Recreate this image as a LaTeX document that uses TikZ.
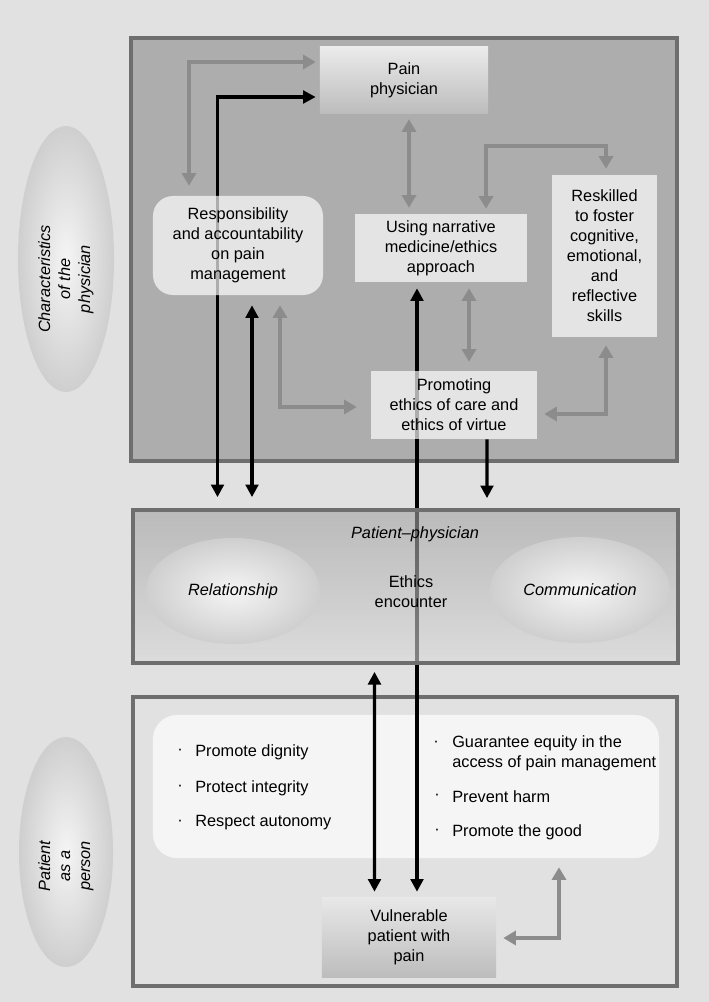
\documentclass[tikz,border=0pt]{standalone}
\usepackage{fontspec}
\setmainfont{Liberation Sans}
\usetikzlibrary{arrows.meta,calc,shapes.geometric}

\pgfdeclarelayer{back}
\pgfdeclarelayer{lines}
\pgfsetlayers{back,lines,main}

\definecolor{pagegray}{HTML}{E1E1E1}
\definecolor{panelgray}{HTML}{ADADAD}
\definecolor{framegray}{HTML}{6E6E6E}
\definecolor{linkgray}{HTML}{8C8C8C}
\definecolor{boxwhite}{HTML}{FFFFFF}

\newcommand{\figfont}{\fontsize{11.6}{14.2}\selectfont}
\newcommand{\BulletItem}[4]{
    \node[dot] (#1dot) at (#2-15, #3) {·};
    \node[item] (#1) at (#2, #3) {#4};
}

\begin{document}
\begin{tikzpicture}[
        x=0.025cm, y=-0.025cm,
        font=\figfont,
        panel/.style={draw=framegray, line width=2.6pt, inner sep=0pt},
        textbox/.style={fill=boxwhite, fill opacity=0.68, text opacity=1, align=center, inner sep=0pt},
        shadebox/.style={top color=white!92!black, bottom color=white!74!black, align=center, inner sep=0pt},
        blob/.style={ellipse, inner color=white!96!black, outer color=white!81!black, inner sep=0pt},
        sidetext/.style={rotate=90, align=center, font=\figfont\itshape},
        item/.style={anchor=west, inner sep=0pt, align=left},
        dot/.style={inner sep=0pt},
        link/.style={linkgray, line width=2.8pt, {Triangle[length=9pt,width=10pt]}-{Triangle[length=9pt,width=10pt]}},
        bond/.style={black, line width=2.4pt, {Triangle[length=9pt,width=9pt]}-{Triangle[length=9pt,width=9pt]}},
        bondto/.style={black, line width=2.4pt, -{Triangle[length=9pt,width=9pt]}}
    ]
  \useasboundingbox (0,0) rectangle (709,1002);

  %%% Background, outer panels
  \begin{pgfonlayer}{back}
    \fill[pagegray] (0,0) rectangle (709,1002);
    \node[panel, fill=panelgray, minimum width=13.65cm, minimum height=10.575cm] (physpanel) at (404,249.5) {};
    \node[panel, fill=pagegray, minimum width=13.6cm, minimum height=7.225cm] (patpanel) at (405,841.5) {};
    \node[fill=white!96!black, rounded corners=0.6cm, minimum width=12.65cm, minimum height=3.575cm] (values) at (406,786.5) {};
  \end{pgfonlayer}

  % Side labels
  \node[blob, minimum width=2.4cm, minimum height=6.65cm] (physblob) at (66,259) {};
  \node[sidetext] (physlabel) at (66,279) {Characteristics\\of the\\physician};
  \node[blob, minimum width=2.35cm, minimum height=5.75cm] (patblob) at (66,852) {};
  \node[sidetext] (patlabel) at (66,866) {Patient\\as a\\person};

  %%% Characteristics of the physician
  \node[shadebox, minimum width=4.2cm, minimum height=1.65cm] (pain) at (404,80) {Pain\\physician};
  \node[textbox, rounded corners=0.5cm, minimum width=4.25cm, minimum height=2.475cm] (resp) at (238,245.5)
    {Responsibility\\and accountability\\on pain\\management};
  \node[textbox, minimum width=4.3cm, minimum height=1.7cm] (narr) at (441,248) {Using narrative\\medicine/ethics\\approach};
  \node[textbox, minimum width=2.625cm, minimum height=4.05cm] (reskill) at (604.5,256)
    {Reskilled\\to foster\\cognitive,\\emotional,\\and\\reflective\\skills};
  \node[textbox, minimum width=4.15cm, minimum height=1.7cm] (promo) at (454,405) {Promoting\\ethics of care and\\ethics of virtue};

  %%% Ethics encounter
  \node[panel, top color=white!63!black, bottom color=white!85!black, fill opacity=0.6, draw opacity=1,
        minimum width=13.625cm, minimum height=3.825cm] (encpanel) at (405.5,586.5) {};
  \node[blob, font=\figfont\itshape, minimum width=4.35cm, minimum height=2.65cm] (rel) at (233,591) {Relationship};
  \node[blob, font=\figfont\itshape, minimum width=4.5cm, minimum height=2.65cm] (comm) at (580,590) {Communication};
  \node[font=\figfont\itshape] (pp) at (415,534) {Patient–physician};
  \node[align=center] (enc) at (411,592) {Ethics\\encounter};

  %%% Patient as a person
  \foreach \t/\yy [count=\i] in {Promote dignity/752, Protect integrity/788, Respect autonomy/823}
    { \BulletItem{left\i}{195}{\yy}{\t} }
  \node[dot] (guardot) at (436,744) {·};
  \node[item] (guar) at (452,753) {Guarantee equity in the\\access of pain management};
  \BulletItem{harm}{452}{797}{Prevent harm}
  \BulletItem{good}{452}{832}{Promote the good}
  \node[shadebox, top color=white!91!black, bottom color=white!74!black, minimum width=4.35cm, minimum height=2cm]
    (vuln) at (409,937) {Vulnerable\\patient with\\pain};

  %%% Connectors
  \begin{pgfonlayer}{lines}
    % gray links
    \draw[link] ($(pain.west)+(-4,-18)$) -| ($(resp.north)+(-49,-10)$);
    \draw[link] ($(pain.south)+(5,6)$) -- ($(narr.north)+(-32,-6)$);
    \draw[link] ($(narr.north)+(45,-5)$) -- ++(0,-63) -| ($(reskill.north)+(1.5,-6)$);
    \draw[link] ($(narr.south)+(28,6)$) -- ($(promo.north)+(15,-9)$);
    \draw[link] ($(promo.east)+(7,9)$) -| ($(reskill.south)+(1.5,8)$);
    \draw[link] ($(resp.south)+(42,10)$) |- ($(promo.west)+(-14,2)$);
    \draw[link] ($(vuln.east)+(7,1)$) -| ($(values.south)+(153,9)$);
    % black bonds
    \draw[bond] ($(pain.west)+(-4,17)$) -| ($(encpanel.north)+(-188,-11)$);
    \draw[bond] ($(resp.south)+(14,10)$) -- ($(encpanel.north)+(-153.5,-11)$);
    \draw[bondto] ($(promo.south)+(33,0)$) -- ($(encpanel.north)+(81.5,-10)$);
    \draw[bond] ($(vuln.north)+(8,-5)$) -- ($(narr.south)+(-24,6)$);
    \draw[bond] ($(encpanel.south)+(-31,7)$) -- ($(vuln.north)+(-34.5,-5)$);
  \end{pgfonlayer}
\end{tikzpicture}
\end{document}
